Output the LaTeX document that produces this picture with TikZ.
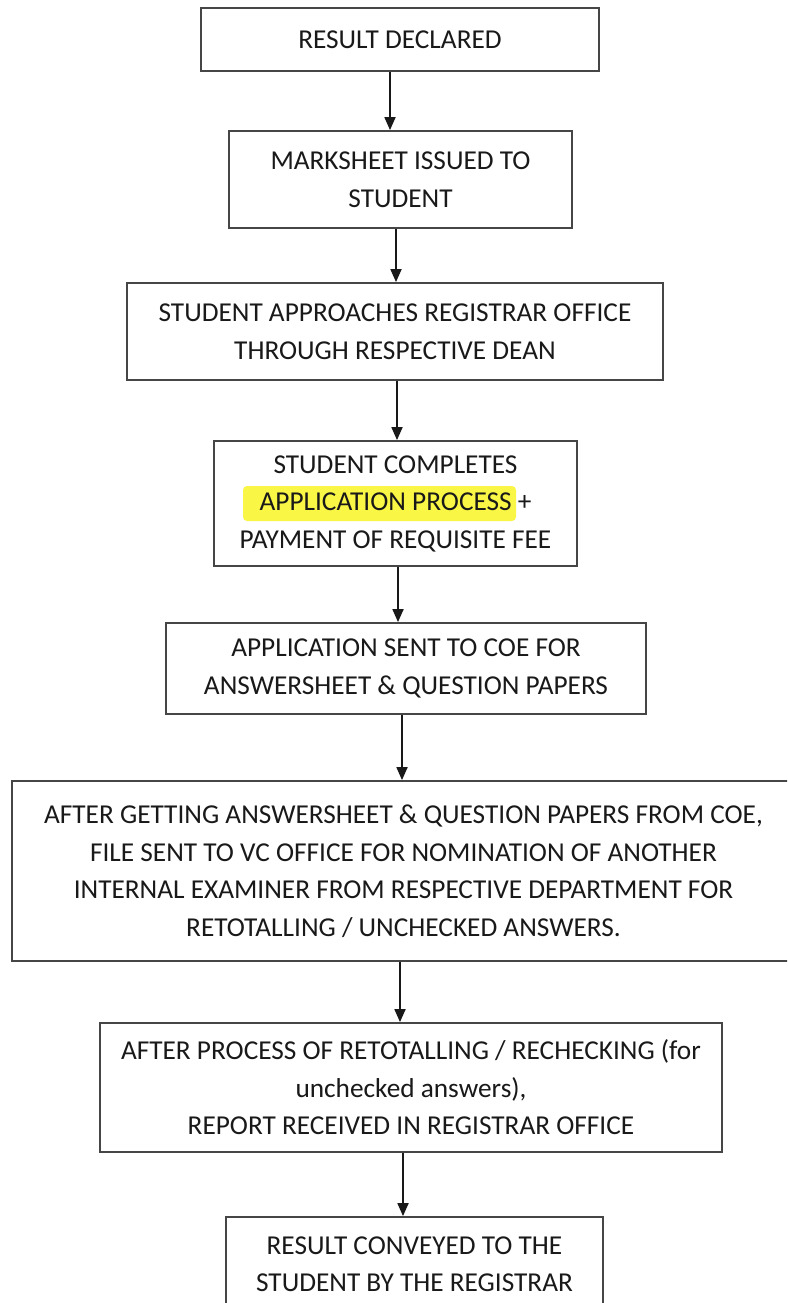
\documentclass[tikz,border=0pt]{standalone}
\usepackage{fontspec}
\setmainfont{Carlito}
\usetikzlibrary{arrows.meta}
\definecolor{hl}{RGB}{250,246,70}
\definecolor{ink}{RGB}{25,25,25}
\definecolor{edge}{RGB}{70,70,70}
\tikzset{
  box/.style={draw=edge, line width=1.8pt, inner sep=0pt, align=center,
    text=ink, font=\fontsize{27.3}{37.5}\selectfont},
  arr/.style={draw=ink, line width=1.8pt, -{Triangle[length=13pt,width=11pt]}}
}
\begin{document}
\begin{tikzpicture}[x=1pt,y=-1pt]
\clip (0,0) rectangle (787,1303);
\fill[white] (0,0) rectangle (787,1303);
% highlight behind APPLICATION PROCESS
\fill[hl, rounded corners=4pt] (243,486) rectangle (516,521);

\node[box, minimum width=398pt, minimum height=63pt] (b1) at (400,39.5) {RESULT DECLARED};
\node[box, minimum width=343pt, minimum height=97pt] (b2) at (400.5,179.5) {MARKSHEET ISSUED TO\\STUDENT};
\node[box, minimum width=536pt, minimum height=97pt] (b3) at (395,331.5) {STUDENT APPROACHES REGISTRAR OFFICE\\THROUGH RESPECTIVE DEAN};
\node[box, minimum width=363pt, minimum height=125pt] (b4) at (395.5,503.5) {STUDENT COMPLETES\\APPLICATION PROCESS +\\PAYMENT OF REQUISITE FEE};
\node[box, minimum width=480pt, minimum height=91pt] (b5) at (406,668.5) {APPLICATION SENT TO COE FOR\\ANSWERSHEET \& QUESTION PAPERS};
\node[box, minimum width=783pt, minimum height=180pt] (b6) at (403.5,871) {AFTER GETTING ANSWERSHEET \& QUESTION PAPERS FROM COE,\\FILE SENT TO VC OFFICE FOR NOMINATION OF ANOTHER\\INTERNAL EXAMINER FROM RESPECTIVE DEPARTMENT FOR\\RETOTALLING / UNCHECKED ANSWERS.};
\node[box, minimum width=622pt, minimum height=129pt] (b7) at (411,1087.5) {AFTER PROCESS OF RETOTALLING / RECHECKING (for\\unchecked answers),\\REPORT RECEIVED IN REGISTRAR OFFICE};
\node[box, minimum width=377pt, minimum height=94pt] (b8) at (414.5,1264) {RESULT CONVEYED TO THE\\STUDENT BY THE REGISTRAR};

\draw[arr] (b1.south -| 390,0) -- (b2.north -| 390,0);
\draw[arr] (b2.south -| 396,0) -- (b3.north -| 396,0);
\draw[arr] (b3.south -| 397,0) -- (b4.north -| 397,0);
\draw[arr] (b4.south -| 398,0) -- (b5.north -| 398,0);
\draw[arr] (b5.south -| 402,0) -- (b6.north -| 402,0);
\draw[arr] (b6.south -| 400,0) -- (b7.north -| 400,0);
\draw[arr] (b7.south -| 403,0) -- (b8.north -| 403,0);
\end{tikzpicture}
\end{document}
